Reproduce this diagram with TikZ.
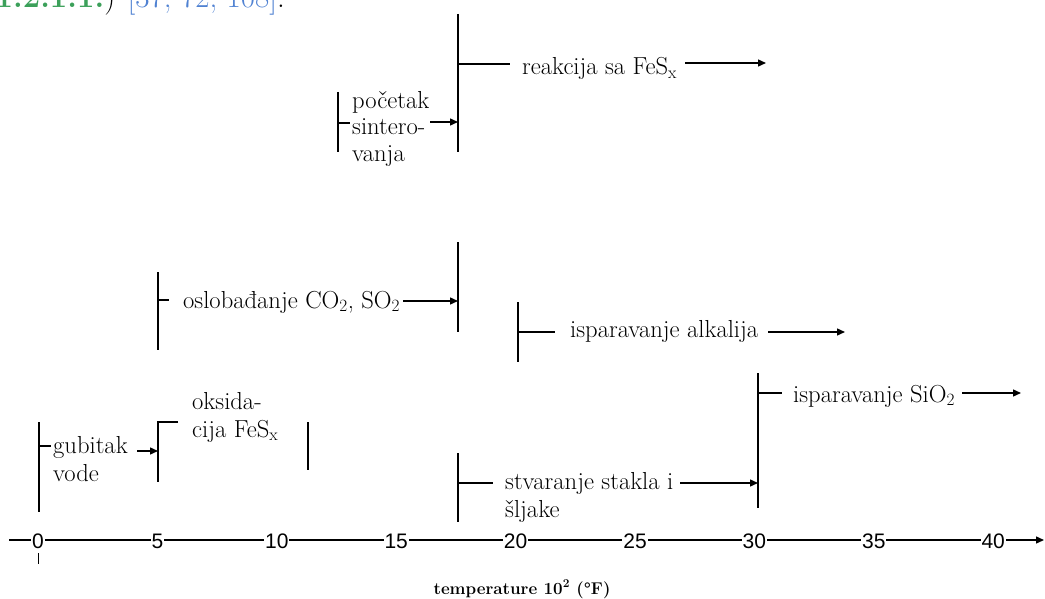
\documentclass[tikz,border=0pt]{standalone}
\usepackage{fontspec}
\newfontfamily\axisfont{Liberation Sans}
\usetikzlibrary{arrows.meta}
\definecolor{refgreen}{RGB}{60,160,90}
\definecolor{refblue}{RGB}{80,130,210}
\tikzset{
  ln/.style={line width=1.4pt},
  arr/.style={line width=1.4pt,-{Triangle[length=8pt,width=7pt]}},
  lbl/.style={font=\fontsize{24.6}{28}\selectfont, inner sep=0pt, anchor=base west, align=left},
  axlbl/.style={font=\axisfont\fontsize{21}{25}\selectfont, fill=white, inner sep=1pt},
  captxt/.style={font=\bfseries\fontsize{17}{20}\selectfont, inner sep=0pt, anchor=base}
}
\begin{document}
\begin{tikzpicture}[x=1pt,y=-1pt]
\useasboundingbox (0,0) rectangle (1045,599);
\begin{scope}
\clip (0,0) rectangle (1045,599);
\node[font=\fontsize{31}{35}\selectfont, inner sep=0pt, anchor=base east] (ref) at (285,8)
  {\textcolor{refgreen}{\bfseries 1.2.1.1.}) \textcolor{refblue}{[37, 72, 108]}.};
\end{scope}

% axis
\coordinate (axs) at (9,540);
\coordinate (axe) at (1044,540);
\draw[arr] (axs) -- (axe);
\foreach \t in {0,5,...,40}
  \node[axlbl] (ax\t) at (38+23.88*\t,541) {\t};
\coordinate (tk0a) at (38,553);
\coordinate (tk0b) at (38,564);
\draw[line width=1pt] (tk0a) -- (tk0b);
\node[captxt] (axcap) at (522,594) {temperature 10\textsuperscript{2} (°F)};

% gubitak vode
\coordinate (a1) at (39,422); \coordinate (a2) at (39,512);
\draw[ln] (a1) -- (a2);
\coordinate (at) at (39,446); \coordinate (atx) at (51,446);
\draw[ln] (at) -- (atx);
\node[lbl] (gub) at (53,481) {gubitak\\vode};
\coordinate (gubs) at (137,451); \coordinate (gube) at (158,451);
\draw[arr] (gubs) -- (gube);

% oksidacija
\coordinate (b1) at (158,422); \coordinate (b2) at (158,482);
\coordinate (bt) at (178,422);
\draw[ln] (bt) -- (b1) -- (b2);
\node[lbl] (oks) at (192,437) {oksida-\\cija FeS\textsubscript{x}};
\coordinate (c1) at (308,422); \coordinate (c2) at (308,470);
\draw[ln] (c1) -- (c2);

% oslobadjanje
\coordinate (d1) at (158,272); \coordinate (d2) at (158,350);
\draw[ln] (d1) -- (d2);
\coordinate (dt) at (158,300); \coordinate (dtx) at (169,300);
\draw[ln] (dt) -- (dtx);
\node[lbl] (osl) at (183,308) {oslobađanje CO\textsubscript{2}, SO\textsubscript{2}};
\coordinate (e1) at (458,242); \coordinate (e2) at (458,332);
\draw[ln] (e1) -- (e2);
\coordinate (osls) at (403,301); \coordinate (osle) at (458,301);
\draw[arr] (osls) -- (osle);

% alkalija
\coordinate (f1) at (518,302); \coordinate (f2) at (518,362);
\draw[ln] (f1) -- (f2);
\coordinate (ft) at (518,332); \coordinate (ftx) at (555,332);
\draw[ln] (ft) -- (ftx);
\node[lbl] (alk) at (570,337) {isparavanje alkalija};
\coordinate (alks) at (768,332); \coordinate (alke) at (845,332);
\draw[arr] (alks) -- (alke);

% SiO2
\coordinate (g1) at (758,373); \coordinate (g2) at (758,508);
\draw[ln] (g1) -- (g2);
\coordinate (gt) at (758,393); \coordinate (gtx) at (782,393);
\draw[ln] (gt) -- (gtx);
\node[lbl] (sio) at (793,402) {isparavanje SiO\textsubscript{2}};
\coordinate (sios) at (962,393); \coordinate (sioe) at (1021,393);
\draw[arr] (sios) -- (sioe);

% stvaranje
\coordinate (h1) at (458,453); \coordinate (h2) at (458,522);
\draw[ln] (h1) -- (h2);
\coordinate (ht) at (458,483); \coordinate (htx) at (493,483);
\draw[ln] (ht) -- (htx);
\node[lbl] (stv) at (505,517) {stvaranje stakla i\\šljake};
\coordinate (stvs) at (680,483); \coordinate (stve) at (758,483);
\draw[arr] (stvs) -- (stve);

% reakcija
\coordinate (i1) at (458,14); \coordinate (i2) at (458,152);
\draw[ln] (i1) -- (i2);
\coordinate (it) at (458,64); \coordinate (itx) at (510,64);
\draw[ln] (it) -- (itx);
\node[lbl] (rea) at (522,75) {reakcija sa FeS\textsubscript{x}};
\coordinate (reas) at (685,63); \coordinate (reae) at (766,63);
\draw[arr] (reas) -- (reae);

% pocetak
\coordinate (j1) at (338,92); \coordinate (j2) at (338,152);
\draw[ln] (j1) -- (j2);
\coordinate (jt) at (338,123); \coordinate (jtx) at (350,123);
\draw[ln] (jt) -- (jtx);
\node[lbl, font=\fontsize{24.6}{27}\selectfont] (poc) at (352,162) {početak\\sintero-\\vanja};
\coordinate (pocs) at (430,122); \coordinate (poce) at (458,122);
\draw[arr] (pocs) -- (poce);
\end{tikzpicture}
\end{document}
